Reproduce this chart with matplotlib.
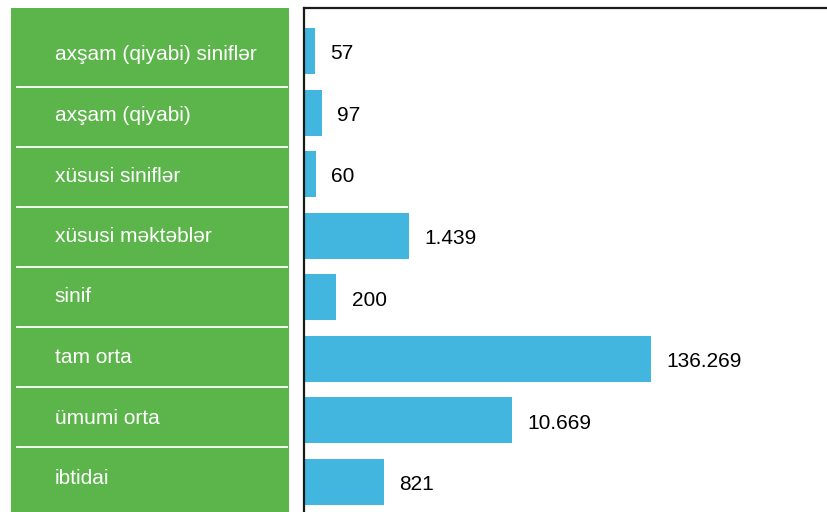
import numpy as np
import matplotlib
matplotlib.use("Agg")
import matplotlib.pyplot as plt

plt.rcParams['font.family'] = ['Liberation Sans', 'DejaVu Sans']

categories = ["axşam (qiyabi) siniflər", "axşam (qiyabi)", "xüsusi siniflər",
              "xüsusi məktəblər", "sinif", "tam orta", "ümumi orta", "ibtidai"]
values = [57, 97, 60, 1439, 200, 136269, 10669, 821]

GREEN = "#5cb54a"
BLUE = "#43b6e0"

W, H = 827, 512
fig = plt.figure(figsize=(W / 100, H / 100), dpi=100)

y = np.arange(len(categories))
ylim = (7.487, -0.698)

# green label panel on the left, in pixel rows
ax_lab = fig.add_axes([11 / W, 0, 278 / W, 1 - 8 / H])
ax_lab.set_facecolor(GREEN)
ax_lab.set_xlim(0, 1)
ax_lab.set_ylim(H, 8)
for s in ax_lab.spines.values():
    s.set_visible(False)
ax_lab.set_xticks([])
ax_lab.set_yticks([])
for i, name in enumerate(categories):
    ax_lab.text(0.158, 55 + 60.5 * i, name, color="white", fontsize=15,
                va="center", ha="left")
for k in range(len(categories) - 1):
    ax_lab.plot([0.022, 0.993], [87 + 60 * k] * 2, color="white", lw=1.3)

# bars on a compressed log-like scale
c = 250.0
fwd = lambda v: np.log10(1 + np.maximum(v, 0) / c)
inv = lambda u: c * (10 ** u - 1)

ax = fig.add_axes([304 / W, 0, 1 - 304 / W, 1 - 8 / H])
ax.set_xscale("function", functions=(fwd, inv))
ax.barh(y, values, height=0.747, color=BLUE)
ax.set_xlim(0, inv(fwd(136269) * (W - 304) / 347))
ax.set_ylim(*ylim)
ax.set_xticks([])
ax.set_yticks([])
ax.minorticks_off()
ax.spines["right"].set_visible(False)
ax.spines["bottom"].set_visible(False)
for k in ("left", "top"):
    ax.spines[k].set_linewidth(1.6)
    ax.spines[k].set_color("#1a1a1a")

for i, v in enumerate(values):
    label = f"{v:,}".replace(",", ".")
    ax.annotate(label, (v, i), xytext=(11, -2), textcoords="offset points",
                fontsize=15, va="center", ha="left", color="black")

fig.savefig("out.png", dpi=100)
